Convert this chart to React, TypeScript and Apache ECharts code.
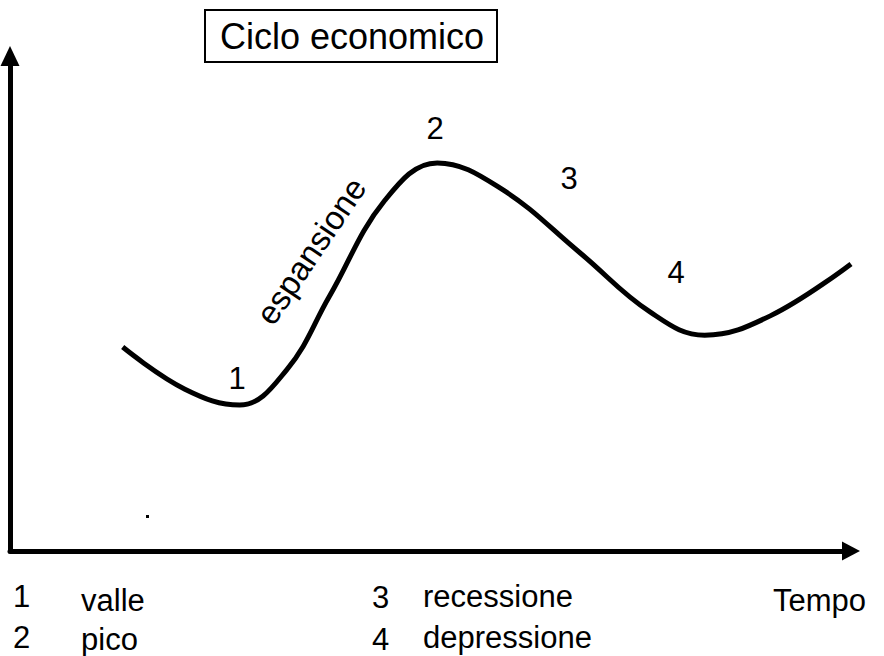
import React, { useEffect, useRef } from "react";
import * as echarts from "echarts";

// Curve of the economic cycle (time on x, activity on y)
const timeValues = [13.4, 20.8, 27.3, 32.9, 38.0, 44.6, 50.8, 58.3, 67.8, 76.1, 82.6, 90.4, 100];
const cycleValues = [41.2, 32.7, 29.5, 36.6, 51.5, 70.9, 78.4, 73.3, 60.2, 48.3, 43.6, 47.5, 58.0];

const titleText = "Ciclo economico";
const phaseNumbers = ["1", "2", "3", "4"];
const phaseNames = ["valle", "pico", "recessione", "depressione"];
const expansionLabel = "espansione";
const xAxisName = "Tempo";

const FONT = "'Liberation Sans', Arial, sans-serif";

export default function App() {
  const ref = useRef<HTMLDivElement>(null);
  useEffect(() => {
    if (!ref.current) return;
    const chart = echarts.init(ref.current, null, { renderer: "svg" });
    const data = timeValues.map((t, i) => [t, cycleValues[i]]);
    const txt = (text: string, x: number, y: number, opts: any = {}) => ({
      type: "text",
      x,
      y,
      rotation: opts.rotation ?? 0,
      style: {
        text,
        fontSize: opts.size ?? 31,
        fontFamily: FONT,
        fill: "#000",
        textAlign: opts.align ?? "left",
        textVerticalAlign: "middle",
      },
    });
    chart.setOption({
      animation: false,
      backgroundColor: "#fff",
      grid: { left: 10, right: 33, top: 56, bottom: 105 },
      xAxis: {
        type: "value",
        min: 0,
        max: 100,
        splitLine: { show: false },
        axisTick: { show: false },
        axisLabel: { show: false },
        axisLine: {
          show: true,
          lineStyle: { color: "#000", width: 5 },
          symbol: ["none", "triangle"],
          symbolSize: [19, 18],
          symbolOffset: [0, 0],
        },
      },
      yAxis: {
        type: "value",
        min: 0,
        max: 100,
        splitLine: { show: false },
        axisTick: { show: false },
        axisLabel: { show: false },
        axisLine: {
          show: true,
          lineStyle: { color: "#000", width: 5 },
          symbol: ["none", "triangle"],
          symbolSize: [19, 20],
          symbolOffset: [0, 0],
        },
      },
      series: [
        {
          type: "line",
          data,
          smooth: 0.4,
          showSymbol: false,
          lineStyle: { color: "#000", width: 5 },
          silent: true,
        },
      ],
      graphic: [
        {
          type: "rect",
          shape: { x: 205, y: 10, width: 292, height: 52 },
          style: { fill: "#fff", stroke: "#000", lineWidth: 2 },
        },
        txt(titleText, 352, 36, { size: 36, align: "center" }),
        txt(expansionLabel, 311, 251, { size: 33, rotation: (56 * Math.PI) / 180, align: "center" }),
        txt(phaseNumbers[0], 237, 378, { align: "center" }),
        txt(phaseNumbers[1], 435, 128, { align: "center" }),
        txt(phaseNumbers[2], 569, 178, { align: "center" }),
        txt(phaseNumbers[3], 676, 272, { align: "center" }),
        txt(phaseNumbers[0], 13, 596),
        txt(phaseNames[0], 81, 600),
        txt(phaseNumbers[2], 372, 597),
        txt(phaseNames[2], 423, 596),
        txt(xAxisName, 773, 600),
        txt(phaseNumbers[1], 13, 637),
        txt(phaseNames[1], 81, 639),
        txt(phaseNumbers[3], 372, 639),
        txt(phaseNames[3], 423, 637),
        {
          type: "rect",
          shape: { x: 146, y: 515, width: 3, height: 3 },
          style: { fill: "#000" },
        },
      ],
    });
    return () => chart.dispose();
  }, []);
  return <div ref={ref} style={{ width: 884, height: 656, position: "absolute", left: 0, top: 0 }} />;
}
